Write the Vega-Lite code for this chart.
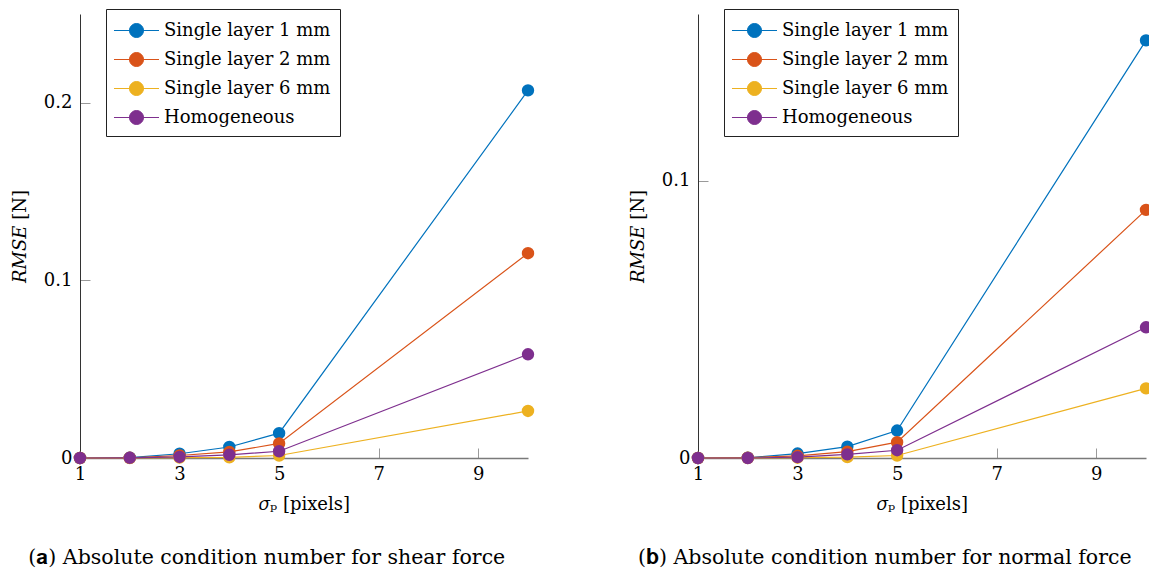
{
  "$schema": "https://vega.github.io/schema/vega-lite/v6.json",
  "padding": {"left": 11, "top": 8, "right": 0, "bottom": 0},
  "bounds": "flush",
  "spacing": 170,
  "config": {
    "font": "DejaVu Serif",
    "view": {"stroke": null},
    "axis": {
      "grid": false,
      "labelFont": "DejaVu Serif",
      "labelFontSize": 18,
      "labelColor": "#000000",
      "titleFont": "DejaVu Serif",
      "titleFontSize": 18,
      "titleFontWeight": "normal",
      "titleColor": "#000000",
      "tickSize": -10,
      "tickColor": "#9a9a9a",
      "tickWidth": 1
    },
    "axisX": {"domainColor": "#7a7a7a", "domainWidth": 1.5, "labelPadding": 17, "titlePadding": 12, "labelFlush": false},
    "axisY": {"domainColor": "#333333", "domainWidth": 1, "labelPadding": 18, "titlePadding": 14},
    "title": {"font": "DejaVu Serif", "fontSize": 20.5, "fontWeight": "normal", "color": "#000000"}
  },
  "datasets": {
    "a": [
      {"series": "Single layer 1 mm", "sigma": 1, "rmse": 0},
      {"series": "Single layer 1 mm", "sigma": 2, "rmse": 0.0002},
      {"series": "Single layer 1 mm", "sigma": 3, "rmse": 0.0024},
      {"series": "Single layer 1 mm", "sigma": 4, "rmse": 0.0062},
      {"series": "Single layer 1 mm", "sigma": 5, "rmse": 0.0140},
      {"series": "Single layer 1 mm", "sigma": 10, "rmse": 0.207},
      {"series": "Single layer 2 mm", "sigma": 1, "rmse": 0},
      {"series": "Single layer 2 mm", "sigma": 2, "rmse": 0.0001},
      {"series": "Single layer 2 mm", "sigma": 3, "rmse": 0.0014},
      {"series": "Single layer 2 mm", "sigma": 4, "rmse": 0.0034},
      {"series": "Single layer 2 mm", "sigma": 5, "rmse": 0.0082},
      {"series": "Single layer 2 mm", "sigma": 10, "rmse": 0.1153},
      {"series": "Single layer 6 mm", "sigma": 1, "rmse": 0},
      {"series": "Single layer 6 mm", "sigma": 2, "rmse": 0},
      {"series": "Single layer 6 mm", "sigma": 3, "rmse": 0.0002},
      {"series": "Single layer 6 mm", "sigma": 4, "rmse": 0.0004},
      {"series": "Single layer 6 mm", "sigma": 5, "rmse": 0.0014},
      {"series": "Single layer 6 mm", "sigma": 10, "rmse": 0.0265},
      {"series": "Homogeneous", "sigma": 1, "rmse": 0},
      {"series": "Homogeneous", "sigma": 2, "rmse": 0.0001},
      {"series": "Homogeneous", "sigma": 3, "rmse": 0.0006},
      {"series": "Homogeneous", "sigma": 4, "rmse": 0.0018},
      {"series": "Homogeneous", "sigma": 5, "rmse": 0.0038},
      {"series": "Homogeneous", "sigma": 10, "rmse": 0.0584}
    ],
    "b": [
      {"series": "Single layer 1 mm", "sigma": 1, "rmse": 0},
      {"series": "Single layer 1 mm", "sigma": 2, "rmse": 0.0001},
      {"series": "Single layer 1 mm", "sigma": 3, "rmse": 0.0016},
      {"series": "Single layer 1 mm", "sigma": 4, "rmse": 0.0041},
      {"series": "Single layer 1 mm", "sigma": 5, "rmse": 0.0099},
      {"series": "Single layer 1 mm", "sigma": 10, "rmse": 0.1505},
      {"series": "Single layer 2 mm", "sigma": 1, "rmse": 0},
      {"series": "Single layer 2 mm", "sigma": 2, "rmse": 0.0001},
      {"series": "Single layer 2 mm", "sigma": 3, "rmse": 0.0008},
      {"series": "Single layer 2 mm", "sigma": 4, "rmse": 0.0023},
      {"series": "Single layer 2 mm", "sigma": 5, "rmse": 0.0057},
      {"series": "Single layer 2 mm", "sigma": 10, "rmse": 0.0894},
      {"series": "Single layer 6 mm", "sigma": 1, "rmse": 0},
      {"series": "Single layer 6 mm", "sigma": 2, "rmse": 0},
      {"series": "Single layer 6 mm", "sigma": 3, "rmse": 0.0001},
      {"series": "Single layer 6 mm", "sigma": 4, "rmse": 0.0003},
      {"series": "Single layer 6 mm", "sigma": 5, "rmse": 0.0009},
      {"series": "Single layer 6 mm", "sigma": 10, "rmse": 0.0251},
      {"series": "Homogeneous", "sigma": 1, "rmse": 0},
      {"series": "Homogeneous", "sigma": 2, "rmse": 0},
      {"series": "Homogeneous", "sigma": 3, "rmse": 0.0003},
      {"series": "Homogeneous", "sigma": 4, "rmse": 0.0013},
      {"series": "Homogeneous", "sigma": 5, "rmse": 0.0028},
      {"series": "Homogeneous", "sigma": 10, "rmse": 0.0471}
    ]
  },
  "hconcat": [
    {
      "width": 448,
      "height": 444,
      "data": {"name": "a"},
      "title": {"text": "(𝐚) Absolute condition number for shear force", "orient": "bottom", "frame": "bounds", "anchor": "middle", "offset": 35, "dx": -6},
      "encoding": {
        "x": {"field": "sigma", "type": "quantitative", "scale": {"domain": [1, 10], "nice": false, "zero": false}, "axis": {"values": [1, 3, 5, 7, 9], "title": "𝜎ₚ [pixels]"}},
        "y": {"field": "rmse", "type": "quantitative", "scale": {"domain": [0, 0.25], "nice": false}, "axis": {"values": [0, 0.1, 0.2], "format": "~g", "title": "𝑅𝑀𝑆𝐸 [N]"}},
        "color": {
          "field": "series", "type": "nominal",
          "scale": {"domain": ["Single layer 1 mm", "Single layer 2 mm", "Single layer 6 mm", "Homogeneous"], "range": ["#0072BD", "#D95319", "#EDB120", "#7E2F8E"]},
          "legend": {
            "title": null, "orient": "none", "legendX": 26, "legendY": -5,
            "strokeColor": "#222222", "fillColor": "#ffffff", "padding": 9, "cornerRadius": 0,
            "labelFontSize": 18, "labelColor": "#000000", "labelLimit": 400, "labelOffset": 15, "rowPadding": 7,
            "symbolType": "M-1.923,0H1.923M0.598,0A0.598,0.598,0,1,1,-0.598,0A0.598,0.598,0,1,1,0.598,0Z",
            "symbolSize": 548, "symbolOffset": 9,
            "encode": {"symbols": {"update": {"fill": {"scale": "color", "field": "value"}, "stroke": {"scale": "color", "field": "value"}, "strokeWidth": {"value": 1}, "opacity": {"value": 1}}}}
          }
        }
      },
      "layer": [
        {"mark": {"type": "line", "strokeWidth": 1.2}},
        {"mark": {"type": "point", "filled": true, "size": 154, "opacity": 1, "shape": "circle"}}
      ]
    },
    {
      "width": 448,
      "height": 444,
      "data": {"name": "b"},
      "title": {"text": "(𝐛) Absolute condition number for normal force", "orient": "bottom", "frame": "bounds", "anchor": "middle", "offset": 35, "dx": -6},
      "encoding": {
        "x": {"field": "sigma", "type": "quantitative", "scale": {"domain": [1, 10], "nice": false, "zero": false}, "axis": {"values": [1, 3, 5, 7, 9], "title": "𝜎ₚ [pixels]"}},
        "y": {"field": "rmse", "type": "quantitative", "scale": {"domain": [0, 0.16], "nice": false}, "axis": {"values": [0, 0.1], "format": "~g", "title": "𝑅𝑀𝑆𝐸 [N]"}},
        "color": {
          "field": "series", "type": "nominal",
          "scale": {"domain": ["Single layer 1 mm", "Single layer 2 mm", "Single layer 6 mm", "Homogeneous"], "range": ["#0072BD", "#D95319", "#EDB120", "#7E2F8E"]},
          "legend": {
            "title": null, "orient": "none", "legendX": 26, "legendY": -5,
            "strokeColor": "#222222", "fillColor": "#ffffff", "padding": 9, "cornerRadius": 0,
            "labelFontSize": 18, "labelColor": "#000000", "labelLimit": 400, "labelOffset": 15, "rowPadding": 7,
            "symbolType": "M-1.923,0H1.923M0.598,0A0.598,0.598,0,1,1,-0.598,0A0.598,0.598,0,1,1,0.598,0Z",
            "symbolSize": 548, "symbolOffset": 9,
            "encode": {"symbols": {"update": {"fill": {"scale": "color", "field": "value"}, "stroke": {"scale": "color", "field": "value"}, "strokeWidth": {"value": 1}, "opacity": {"value": 1}}}}
          }
        }
      },
      "layer": [
        {"mark": {"type": "line", "strokeWidth": 1.2}},
        {"mark": {"type": "point", "filled": true, "size": 154, "opacity": 1, "shape": "circle"}}
      ]
    }
  ],
  "resolve": {"scale": {"color": "independent", "x": "independent", "y": "independent"}}
}
